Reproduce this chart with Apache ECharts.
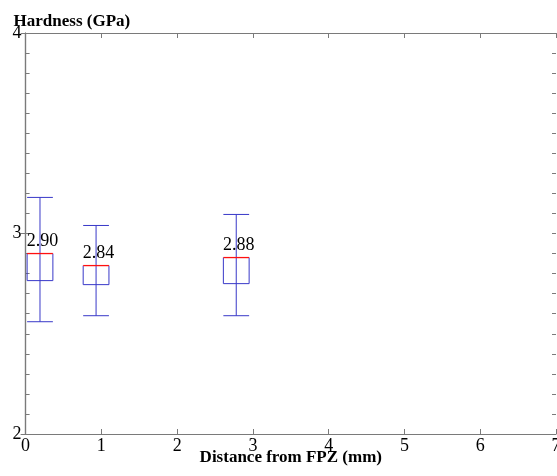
<!DOCTYPE html>
<html><head><meta charset="utf-8">
<script src="https://cdn.jsdelivr.net/npm/echarts@6/dist/echarts.min.js"></script>
<style>html,body{margin:0;padding:0;background:#fff}#c{width:557px;height:476px}</style>
</head><body><div id="c"></div>
<script>
const positions = [0.19, 0.93, 2.78];
const upperQ = [2.90, 2.84, 2.88];
const lowerQ = [2.765, 2.745, 2.75];
const whiskerMax = [3.18, 3.04, 3.095];
const whiskerMin = [2.56, 2.59, 2.59];
const labels = ['2.90', '2.84', '2.88'];
const xTicks = [0, 7, 1];
const yTicks = [2, 4, 1];
const yMinorStep = 0.1;

const data = positions.map((p, i) => [p, whiskerMin[i], lowerQ[i], upperQ[i], whiskerMax[i]]);
const font = '"Liberation Serif", "Times New Roman", serif';
const axisColor = '#7a7a7a';
const blue = '#3838c8';
const red = '#ff1010';

const chart = echarts.init(document.getElementById('c'));
const axisCommon = {
  axisLine: { show: true, lineStyle: { color: axisColor, width: 1.2 } },
  splitLine: { show: false }
};
const tick = (len) => ({ show: true, inside: true, length: len, lineStyle: { color: axisColor } });
chart.setOption({
  animation: false,
  grid: { left: 25.6, right: 1, top: 33, bottom: 42, outerBoundsMode: 'none', containLabel: false },
  xAxis: [
    Object.assign({ type: 'value', min: xTicks[0], max: xTicks[1], interval: xTicks[2], position: 'bottom',
      axisTick: tick(5),
      axisLabel: { color: '#000', fontFamily: font, fontSize: 18, margin: 3 },
      name: 'Distance from FPZ (mm)', nameLocation: 'middle', nameGap: 15, nameMoveOverlap: false,
      nameTextStyle: { color: '#000', fontFamily: font, fontSize: 17, fontWeight: 'bold' }
    }, axisCommon),
    Object.assign({ type: 'value', min: xTicks[0], max: xTicks[1], interval: xTicks[2], position: 'top',
      axisTick: tick(5), axisLabel: { show: false }
    }, axisCommon)
  ],
  yAxis: [
    Object.assign({ type: 'value', min: yTicks[0], max: yTicks[1], interval: yTicks[2], position: 'left',
      axisTick: tick(5),
      axisLabel: { color: '#000', fontFamily: font, fontSize: 18, margin: 4 },
      name: 'Hardness (GPa)', nameLocation: 'end', nameGap: 3, nameMoveOverlap: false,
      nameTextStyle: { color: '#000', fontFamily: font, fontSize: 17, fontWeight: 'bold', align: 'left', padding: [0, 0, 0, -12] }
    }, axisCommon),
    Object.assign({ type: 'value', min: yTicks[0], max: yTicks[1], interval: yTicks[2], position: 'right',
      axisTick: tick(5), axisLabel: { show: false }
    }, axisCommon),
    { type: 'value', min: yTicks[0], max: yTicks[1], interval: yMinorStep, position: 'left',
      axisLine: { show: false }, axisTick: tick(4), axisLabel: { show: false }, splitLine: { show: false } },
    { type: 'value', min: yTicks[0], max: yTicks[1], interval: yMinorStep, position: 'right',
      axisLine: { show: false }, axisTick: tick(4), axisLabel: { show: false }, splitLine: { show: false } }
  ],
  series: [{
    type: 'custom',
    xAxisIndex: 0, yAxisIndex: 0,
    data: data,
    renderItem: function (params, api) {
      const x = api.value(0);
      const pMin = api.coord([x, api.value(1)]);
      const pLo = api.coord([x, api.value(2)]);
      const pHi = api.coord([x, api.value(3)]);
      const pMax = api.coord([x, api.value(4)]);
      const hw = api.size([0.17, 0])[0];
      const cx = pMin[0];
      const ls = { stroke: blue, lineWidth: 1, fill: null };
      return {
        type: 'group',
        children: [
          { type: 'line', shape: { x1: cx, y1: pMax[1], x2: cx, y2: pMin[1] }, style: ls },
          { type: 'line', shape: { x1: cx - hw, y1: pMax[1], x2: cx + hw, y2: pMax[1] }, style: ls },
          { type: 'line', shape: { x1: cx - hw, y1: pMin[1], x2: cx + hw, y2: pMin[1] }, style: ls },
          { type: 'polyline', shape: { points: [[cx - hw, pHi[1]], [cx - hw, pLo[1]], [cx + hw, pLo[1]], [cx + hw, pHi[1]]] }, style: ls },
          { type: 'line', z2: 10, shape: { x1: cx - hw, y1: pHi[1], x2: cx + hw, y2: pHi[1] }, style: { stroke: red, lineWidth: 1.3 } },
          { type: 'text', x: cx + 2.5, y: pHi[1] - 3, style: { text: labels[params.dataIndex], fill: '#000', font: '18px ' + font, align: 'center', verticalAlign: 'bottom' } }
        ]
      };
    }
  }]
});
</script></body></html>
